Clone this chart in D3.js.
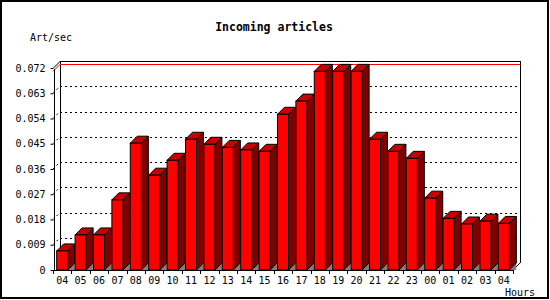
<!DOCTYPE html>
<html><head><meta charset="utf-8">
<script src="https://cdn.jsdelivr.net/npm/d3@7"></script>
<style>body{margin:0;background:#fff}svg{display:block}text{font-family:"DejaVu Sans Mono",monospace}</style>
</head><body><svg id="c" width="550" height="300"></svg>
<script>
const hours = ["04","05","06","07","08","09","10","11","12","13","14","15","16","17","18","19","20","21","22","23","00","01","02","03","04"];
const values = [0.0068,0.0125,0.0125,0.025,0.0452,0.0338,0.0391,0.0466,0.0448,0.0437,0.0428,0.0423,0.0555,0.0602,0.0708,0.0708,0.0708,0.0466,0.0423,0.0398,0.0256,0.0184,0.0164,0.0174,0.0166];
const yTicks = [0,0.009,0.018,0.027,0.036,0.045,0.054,0.063,0.072];
const yTickLabels = ["0","0.009","0.018","0.027","0.036","0.045","0.054","0.063","0.072"];
const maxValue = d3.max(values);

const svg = d3.select("#c");
const W=550,H=300;
const DX=7, DY=7;
const x0=53, x1=513, yb=270, yt=68;
const x = d3.scaleBand().domain(d3.range(hours.length)).range([x0,x1]).padding(0);
const y = d3.scaleLinear().domain([0,0.072]).range([yb,yt]);
const bw = x.bandwidth();

svg.append("rect").attr("x",1).attr("y",1).attr("width",W-3).attr("height",H-3)
  .attr("fill","#fff").attr("stroke","#000").attr("stroke-width",2);

// back plane
const g = svg.append("g");
// gridlines
yTicks.slice(1,-1).forEach(v=>{
  g.append("line").attr("x1",x0+DX).attr("x2",x1+DX).attr("y1",y(v)-DY+0.5).attr("y2",y(v)-DY+0.5)
   .attr("stroke","#000").attr("stroke-dasharray","2,3").attr("shape-rendering","crispEdges");
  g.append("line").attr("x1",x0).attr("y1",y(v)).attr("x2",x0+DX).attr("y2",y(v)-DY)
   .attr("stroke","#000").attr("stroke-dasharray","2,3");
});
// top and side of back plane
g.append("path").attr("d",`M${x0+DX+0.5},${y(0)-DY}V${y(0.072)-DY+0.5}H${x1+DX+0.5}V${y(0)-DY}`)
 .attr("fill","none").attr("stroke","#000").attr("shape-rendering","crispEdges");
g.append("line").attr("x1",x0+0.5).attr("y1",y(0.072)).attr("x2",x0+DX+0.5).attr("y2",y(0.072)-DY).attr("stroke","#000");
g.append("line").attr("x1",x1).attr("y1",yb).attr("x2",x1+DX).attr("y2",yb-DY).attr("stroke","#000");
// max line
g.append("line").attr("x1",x0+DX).attr("x2",x1+DX).attr("y1",y(maxValue)-DY+0.5).attr("y2",y(maxValue)-DY+0.5)
 .attr("stroke","#f00").attr("shape-rendering","crispEdges");
g.append("line").attr("x1",x0).attr("y1",y(maxValue)).attr("x2",x0+DX).attr("y2",y(maxValue)-DY).attr("stroke","#f00");

// bars
const bars = svg.append("g");
values.forEach((v,i)=>{
  const fx = x(i)+bw*0.2, fw = bw*0.6;
  const top = y(v);
  const b = bars.append("g").attr("stroke","#000").attr("stroke-width",1).attr("stroke-linejoin","miter");
  b.append("path").attr("d",`M${fx+fw},${yb}L${fx+fw+DX},${yb-DY}L${fx+fw+DX},${yb}Z`).attr("fill","#808080").attr("stroke","none");
  b.append("path").attr("d",`M${fx+fw},${yb}L${fx+fw},${top}L${fx+fw+DX},${top-DY}L${fx+fw+DX},${yb-DY}Z`).attr("fill","#800000");
  b.append("path").attr("d",`M${fx},${top}L${fx+DX},${top-DY}L${fx+fw+DX},${top-DY}L${fx+fw},${top}Z`).attr("fill","#c80000");
  b.append("rect").attr("x",fx).attr("y",top).attr("width",fw).attr("height",yb-top).attr("fill","#f00");
});

// y axis
const yAxis = d3.axisLeft(y).tickValues(yTicks).tickFormat((d,i)=>yTickLabels[i]).tickSize(3).tickSizeOuter(0).tickPadding(5);
const ya = svg.append("g").attr("transform",`translate(${x0+0.5},0)`).call(yAxis);
ya.selectAll("text").attr("font-size",10).attr("fill","#000").style("font-family","'DejaVu Sans Mono',monospace");
ya.select(".domain").attr("shape-rendering","crispEdges");

// x axis
const xa = svg.append("g");
xa.append("line").attr("x1",x0).attr("x2",x1).attr("y1",yb+0.5).attr("y2",yb+0.5).attr("stroke","#000").attr("shape-rendering","crispEdges");
d3.range(hours.length+1).forEach(k=>{
  const tx = Math.round(x0+k*bw)+0.5;
  xa.append("line").attr("x1",tx).attr("x2",tx).attr("y1",yb).attr("y2",yb+4).attr("stroke","#000").attr("shape-rendering","crispEdges");
});
hours.forEach((h,i)=>{
  xa.append("text").attr("x",x(i)+bw/2).attr("y",280).attr("dy","0.35em").attr("text-anchor","middle")
    .attr("font-size",10).text(h);
});

svg.append("text").attr("x",274).attr("y",27).attr("dy","0.35em").attr("text-anchor","middle")
  .attr("font-size",11.5).attr("font-weight","bold").text("Incoming articles");
svg.append("text").attr("x",30).attr("y",37).attr("dy","0.35em").attr("font-size",10).text("Art/sec");
svg.append("text").attr("x",505).attr("y",292).attr("dy","0.35em").attr("font-size",10).text("Hours");
</script></body></html>
